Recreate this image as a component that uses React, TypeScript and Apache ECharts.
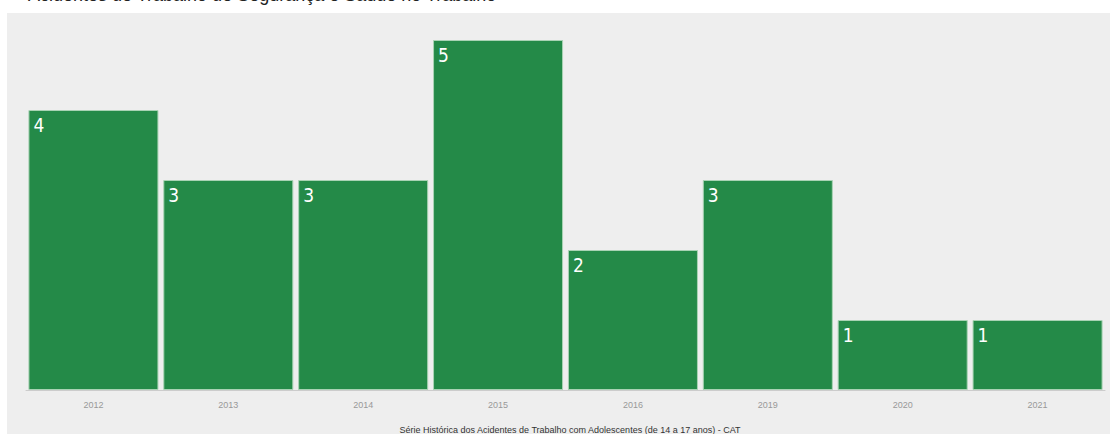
import React, { useEffect, useRef } from "react";
import * as echarts from "echarts";

const years = ["2012", "2013", "2014", "2015", "2016", "2019", "2020", "2021"];
const accidents = [4, 3, 3, 5, 2, 3, 1, 1];
const titleText = "Acidentes de Trabalho de Segurança e Saúde no Trabalho";
const footerText = "Série Histórica dos Acidentes de Trabalho com Adolescentes (de 14 a 17 anos) - CAT";

export default function App() {
  const ref = useRef<HTMLDivElement>(null);
  useEffect(() => {
    if (!ref.current) return;
    const chart = echarts.init(ref.current, null, { renderer: "svg" });
    chart.setOption({
      animation: false,
      graphic: [
        {
          type: "rect",
          z: -10,
          shape: { x: 7, y: 13, width: 1103, height: 421 },
          style: { fill: "#eeeeee" },
        },
        {
          type: "text",
          x: 28,
          y: -14,
          style: {
            text: titleText,
            fontFamily: "Arial, 'Liberation Sans', sans-serif",
            fontSize: 18,
            fill: "#222",
          },
        },
        {
          type: "text",
          x: 570,
          y: 430,
          style: {
            text: footerText,
            fontFamily: "Arial, 'Liberation Sans', sans-serif",
            fontSize: 9,
            fill: "#333",
            align: "center",
            verticalAlign: "middle",
          },
        },
      ],
      grid: { left: 26, right: 5, top: 40, bottom: 44 },
      xAxis: {
        type: "category",
        data: years,
        axisLine: { lineStyle: { color: "#cccccc" } },
        axisTick: { alignWithLabel: true, length: 3, lineStyle: { color: "#cccccc" } },
        axisLabel: {
          color: "#999999",
          fontSize: 9,
          margin: 10,
          fontFamily: "Arial, 'Liberation Sans', sans-serif",
        },
      },
      yAxis: {
        type: "value",
        min: 0,
        max: 5,
        show: false,
      },
      series: [
        {
          type: "bar",
          data: accidents,
          barCategoryGap: "3.6%",
          itemStyle: { color: "#248a48", borderColor: "#a9d3b4", borderWidth: 1 },
          label: {
            show: true,
            position: "insideTopLeft",
            distance: 5,
            color: "#ffffff",
            fontSize: 19,
            fontFamily: "'DejaVu Sans Condensed', 'Liberation Sans Narrow', 'Roboto Condensed', sans-serif",
          },
        },
      ],
    });
    return () => chart.dispose();
  }, []);
  return (
    <div
      ref={ref}
      style={{ position: "absolute", left: 0, top: 0, width: 1110, height: 434 }}
    />
  );
}
